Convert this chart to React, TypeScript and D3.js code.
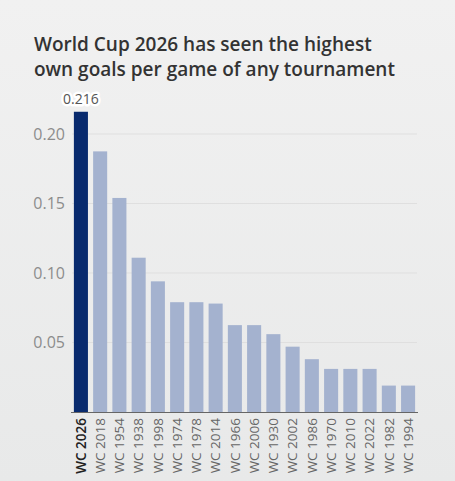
import { useRef, useEffect } from "react";
import * as d3 from "d3";

const tournaments = [
  "WC 2026", "WC 2018", "WC 1954", "WC 1938", "WC 1998", "WC 1974",
  "WC 1978", "WC 2014", "WC 1966", "WC 2006", "WC 1930", "WC 2002",
  "WC 1986", "WC 1970", "WC 2010", "WC 2022", "WC 1982", "WC 1994",
];
const ownGoalsPerGame = [
  0.216, 0.1875, 0.154, 0.111, 0.094, 0.079,
  0.079, 0.078, 0.0625, 0.0625, 0.056, 0.047,
  0.038, 0.031, 0.031, 0.031, 0.019, 0.019,
];
const yTicks = [0.05, 0.1, 0.15, 0.2];
const highlight = "WC 2026";

const W = 455;
const H = 481;

const App = () => {
  const svgRef = useRef<SVGSVGElement>(null);

  useEffect(() => {
    document.body.style.margin = "0";
    const svg = d3.select(svgRef.current);
    svg.selectAll("*").remove();

    const font = "'Open Sans', sans-serif";

    const defs = svg.append("defs");
    const grad = defs
      .append("linearGradient")
      .attr("id", "bg")
      .attr("x1", 0)
      .attr("y1", 0)
      .attr("x2", 0)
      .attr("y2", 1);
    grad.append("stop").attr("offset", "0%").attr("stop-color", "#f1f1f1");
    grad.append("stop").attr("offset", "100%").attr("stop-color", "#e8e9e9");

    svg.append("rect").attr("width", W).attr("height", H).attr("fill", "url(#bg)");

    const x = d3
      .scaleBand()
      .domain(tournaments)
      .range([71, 418])
      .paddingInner(0.27)
      .paddingOuter(0.15);

    const y = d3.scaleLinear().domain([0, 0.25]).range([412, 412 - 0.25 * 1390]);

    // gridlines
    svg
      .append("g")
      .selectAll("line")
      .data(yTicks)
      .join("line")
      .attr("x1", 72)
      .attr("x2", 417)
      .attr("y1", (d) => y(d))
      .attr("y2", (d) => y(d))
      .attr("stroke", "#dfdfdf")
      .attr("stroke-width", 1);

    svg
      .append("g")
      .selectAll("text")
      .data(yTicks)
      .join("text")
      .attr("x", 65)
      .attr("y", (d) => y(d))
      .attr("dy", "0.35em")
      .attr("text-anchor", "end")
      .attr("font-family", font)
      .attr("font-size", 16)
      .attr("fill", "#8c8c8c")
      .text((d) => d3.format(".2f")(d));

    const data = tournaments.map((t, i) => ({ t, v: ownGoalsPerGame[i] }));

    svg
      .append("g")
      .selectAll("rect")
      .data(data)
      .join("rect")
      .attr("x", (d) => x(d.t) || 0)
      .attr("y", (d) => y(d.v))
      .attr("width", x.bandwidth())
      .attr("height", (d) => y(0) - y(d.v))
      .attr("fill", (d) => (d.t === highlight ? "#082a6e" : "#a4b2cf"));

    svg
      .append("line")
      .attr("x1", 71)
      .attr("x2", 418)
      .attr("y1", y(0) + 0.5)
      .attr("y2", y(0) + 0.5)
      .attr("stroke", "#666")
      .attr("stroke-width", 1);

    svg
      .append("g")
      .selectAll("text")
      .data(data)
      .join("text")
      .attr(
        "transform",
        (d) => `translate(${(x(d.t) || 0) + x.bandwidth() / 2},418) rotate(-90)`,
      )
      .attr("dy", "0.35em")
      .attr("text-anchor", "end")
      .attr("font-family", font)
      .attr("font-size", 13.5)
      .attr("font-weight", (d) => (d.t === highlight ? 600 : 400))
      .attr("fill", (d) => (d.t === highlight ? "#222" : "#666"))
      .text((d) => d.t);

    // value label on the highlighted bar
    const top = data[0];
    svg
      .append("text")
      .attr("x", (x(top.t) || 0) + x.bandwidth() / 2)
      .attr("y", y(top.v) - 8)
      .attr("text-anchor", "middle")
      .attr("font-family", font)
      .attr("font-size", 14)
      .attr("fill", "#555")
      .attr("stroke", "#fff")
      .attr("stroke-width", 5)
      .attr("stroke-linejoin", "round")
      .attr("paint-order", "stroke")
      .text(d3.format(".3f")(top.v));

    const title = svg
      .append("text")
      .attr("font-family", font)
      .attr("font-size", 19)
      .attr("font-weight", 600)
      .attr("fill", "#333");
    title.append("tspan").attr("x", 34).attr("y", 51).text("World Cup 2026 has seen the highest");
    title.append("tspan").attr("x", 34).attr("y", 76).text("own goals per game of any tournament");
  }, []);

  return (
    <svg
      ref={svgRef}
      width={W}
      height={H}
      style={{ position: "absolute", left: 0, top: 0, display: "block" }}
    ></svg>
  );
};

export default App;
